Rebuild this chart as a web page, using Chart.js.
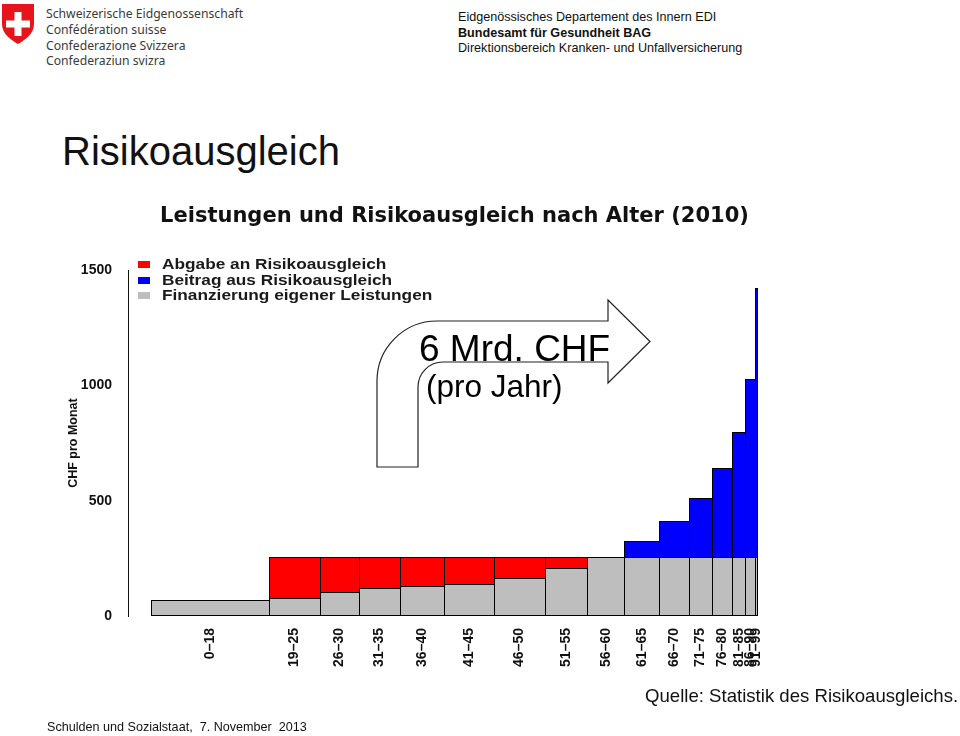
<!DOCTYPE html>
<html lang="de">
<head>
<meta charset="utf-8">
<title>Risikoausgleich</title>
<script src="https://cdn.jsdelivr.net/npm/chart.js@4.4.1/dist/chart.umd.min.js"></script>
<style>
    html, body { margin: 0; padding: 0; background: #fff; }
    body { width: 960px; height: 736px; position: relative; overflow: hidden; font-family: "Liberation Sans", Arial, sans-serif; color: #111; }
    .abs { position: absolute; white-space: pre; }
    #kopfLinks { left: 46px; top: 6px; font-family: "Noto Sans", "Open Sans", sans-serif; font-size: 12.2px; line-height: 15.8px; color: #3a3a3a; }
    #kopfRechts { left: 458px; top: 10px; font-size: 12.6px; line-height: 15.5px; color: #111; }
    #seitenTitel { left: 62px; top: 131px; font-size: 40px; line-height: 1; color: #111; }
    #grafik { position: absolute; left: 56px; top: 190px; }
    #legende { left: 138px; top: 256px; font-size: 15px; font-weight: bold; line-height: 15.5px; color: #1a1a1a; }
    #legende .zeile { position: relative; height: 15.5px; }
    #legende .feld { position: absolute; left: 0; top: 5px; width: 12px; height: 7px; }
    #legende .text { position: absolute; left: 24px; top: 0; transform: scaleX(1.15); transform-origin: left center; }
    #pfeil { position: absolute; left: 0; top: 0; }
    #mrd { left: 419px; top: 330px; font-size: 37px; line-height: 1; color: #000; }
    #proJahr { left: 426px; top: 371px; font-size: 31.5px; line-height: 1; color: #000; }
    #quelle { left: 645px; top: 687px; font-size: 18.6px; line-height: 1; color: #111; }
    #fuss { left: 47px; top: 721px; font-size: 12.6px; line-height: 1; color: #111; }
</style>
</head>
<body>

<svg class="abs" style="left:1px;top:3px" width="34" height="42" viewBox="0 0 34 42">
    <path d="M1 1 H33 V21 C33 31 24 37 17 41 C10 37 1 31 1 21 Z" fill="#e8141b"/>
    <rect x="13.5" y="9" width="7" height="24" fill="#fff"/>
    <rect x="5" y="17.5" width="24" height="7" fill="#fff"/>
</svg>
<div id="kopfLinks" class="abs">Schweizerische Eidgenossenschaft
Confédération suisse
Confederazione Svizzera
Confederaziun svizra</div>
<div id="kopfRechts" class="abs">Eidgenössisches Departement des Innern EDI
<b>Bundesamt für Gesundheit BAG</b>
Direktionsbereich Kranken- und Unfallversicherung</div>

<div id="seitenTitel" class="abs">Risikoausgleich</div>

<canvas id="grafik" width="797" height="490"></canvas>

<div id="legende" class="abs"></div>

<svg id="pfeil" width="960" height="736">
    <path d="M 377 467 L 418 467 L 418 387 A 25 25 0 0 1 443 362 L 608 362 L 608 383 L 650 341.5 L 608 300 L 608 321 L 437 321 A 60 60 0 0 0 377 381 Z"
          fill="#fff" stroke="#222" stroke-width="1.2"/>
</svg>
<div id="mrd" class="abs">6 Mrd. CHF</div>
<div id="proJahr" class="abs">(pro Jahr)</div>

<div id="quelle" class="abs">Quelle: Statistik des Risikoausgleichs.</div>
<div id="fuss" class="abs">Schulden und Sozialstaat,  7. November  2013</div>

<script>
// Altersgruppen (x-Achse)
const altersgruppen = ['0–18', '19–25', '26–30', '31–35', '36–40', '41–45', '46–50', '51–55',
    '56–60', '61–65', '66–70', '71–75', '76–80', '81–85', '86–90', '91–99'];

// Versicherte pro Altersgruppe (in 1000), bestimmt die Balkenbreite
const versicherte = [1517, 656, 502, 527, 566, 648, 647, 544, 481, 450, 381, 296, 262, 167, 120, 42];

// CHF pro Monat
const finanzierungEigen = [69, 78, 104, 123, 130, 137, 163, 207, 256, 256, 256, 256, 256, 256, 256, 256];
const abgabe = [0, 178, 152, 133, 126, 119, 93, 49, 0, 0, 0, 0, 0, 0, 0, 0];
const beitrag = [0, 0, 0, 0, 0, 0, 0, 0, 0, 69, 156, 257, 387, 540, 771, 1167];

// y-Achse
const yTicks = [0, 500, 1000, 1500];

const legende = [
    { text: 'Abgabe an Risikoausgleich', farbe: '#ff0000' },
    { text: 'Beitrag aus Risikoausgleich', farbe: '#0000ff' },
    { text: 'Finanzierung eigener Leistungen', farbe: '#bebebe' }
];

// Balkengrenzen aus den Breiten
const grenzen = [0];
versicherte.forEach((v, i) => grenzen.push(grenzen[i] + v));
const total = grenzen[grenzen.length - 1];
const mitten = versicherte.map((v, i) => grenzen[i] + v / 2);

// Balken mit variabler Breite: Breite kommt aus von/bis auf der x-Skala
// (Kanten auf ganze Pixel gerundet, damit die Rahmen scharf bleiben)
class BreiteBalken extends Chart.BarController {
    _calculateBarIndexPixels(index, ruler) {
        const punkt = this.getDataset().data[index];
        const xAchse = this._cachedMeta.iScale;
        const links = Math.round(xAchse.getPixelForValue(punkt.von));
        const rechts = Math.round(xAchse.getPixelForValue(punkt.bis));
        return { base: links, head: rechts, center: (links + rechts) / 2, size: rechts - links, ratio: 0 };
    }
    _calculateBarValuePixels(index) {
        const p = super._calculateBarValuePixels(index);
        const base = Math.round(p.base);
        const head = Math.round(p.head);
        return { size: head - base, base: base, head: head, center: (base + head) / 2 };
    }
}
BreiteBalken.id = 'breiteBalken';
Chart.register(BreiteBalken);

function balkenDaten(werte) {
    return werte.map((w, i) => ({
        x: mitten[i],
        y: w > 0 ? w : null,
        von: grenzen[i],
        bis: grenzen[i + 1]
    }));
}

function rahmen(ctx) {
    return {
        top: 1,
        left: 1,
        bottom: ctx.datasetIndex === 0 ? 1 : 0,
        right: ctx.dataIndex === altersgruppen.length - 1 ? 1 : 0
    };
}

initLegende();

function initLegende() {
    const box = document.getElementById('legende');
    legende.forEach(l => {
        const z = document.createElement('div');
        z.className = 'zeile';
        z.innerHTML = '<div class="feld" style="background:' + l.farbe + '"></div><div class="text">' + l.text + '</div>';
        box.appendChild(z);
    });
}

const schrift = '"Liberation Sans", Arial, sans-serif';

const ctx = document.getElementById('grafik').getContext('2d');
const grafik = new Chart(ctx, {
    type: 'breiteBalken',
    data: {
        datasets: [
            {
                label: 'Finanzierung eigener Leistungen',
                data: balkenDaten(finanzierungEigen),
                backgroundColor: '#bebebe'
            },
            {
                label: 'Abgabe an Risikoausgleich',
                data: balkenDaten(abgabe),
                backgroundColor: '#ff0000'
            },
            {
                label: 'Beitrag aus Risikoausgleich',
                data: balkenDaten(beitrag),
                backgroundColor: '#0000ff'
            }
        ]
    },
    options: {
        responsive: false,
        animation: false,
        events: [],
        layout: { padding: 0 },
        datasets: {
            breiteBalken: {
                borderColor: '#000',
                borderWidth: rahmen,
                borderSkipped: false,
                inflateAmount: 0
            }
        },
        scales: {
            x: {
                type: 'linear',
                stacked: true,
                offset: false,
                // Abstand links von der y-Achse und Leerraum rechts wie im Original
                min: -total * 23 / 607,
                max: total * 702 / 607,
                afterBuildTicks: (achse) => {
                    achse.ticks = mitten.map(v => ({ value: v }));
                },
                afterFit: (achse) => { achse.height = 64; },
                grid: { display: false, drawTicks: false },
                border: { display: false },
                ticks: {
                    autoSkip: false,
                    minRotation: 90,
                    maxRotation: 90,
                    padding: 12,
                    color: '#111',
                    font: { family: schrift, size: 14, weight: 'bold' },
                    callback: (wert, i) => altersgruppen[i]
                }
            },
            y: {
                stacked: true,
                min: 0,
                max: 1500,
                afterBuildTicks: (achse) => {
                    achse.ticks = yTicks.map(v => ({ value: v }));
                },
                afterFit: (achse) => { achse.width = 72; },
                grid: { display: false, drawTicks: false },
                border: { display: true, color: '#111', width: 1 },
                ticks: {
                    padding: 16,
                    color: '#111',
                    font: { family: schrift, size: 14, weight: 'bold' },
                    callback: (wert) => String(wert)
                },
                title: {
                    display: true,
                    text: 'CHF pro Monat',
                    color: '#111',
                    padding: { top: 10, bottom: 0 },
                    font: { family: schrift, size: 12.5, weight: 'bold' }
                }
            }
        },
        plugins: {
            legend: { display: false },
            tooltip: { enabled: false },
            title: {
                display: true,
                text: 'Leistungen und Risikoausgleich nach Alter (2010)',
                color: '#111',
                padding: { top: 14, bottom: 42 },
                font: { family: '"DejaVu Sans", sans-serif', size: 21, weight: 'bold', lineHeight: 1.15 }
            }
        }
    }
});
</script>
</body>
</html>
